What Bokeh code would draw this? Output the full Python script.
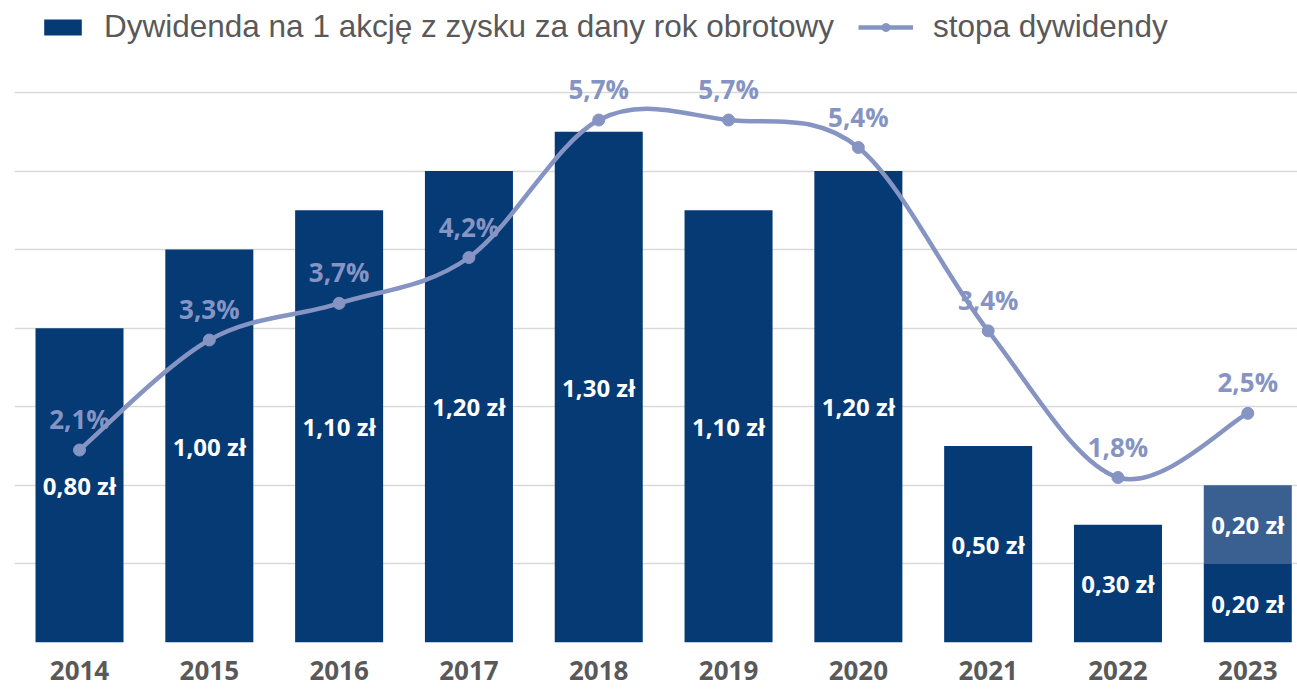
from bokeh.plotting import figure
from bokeh.models import Range1d, FixedTicker, ColumnDataSource, Legend, LegendItem
from bokeh.core.properties import value
from bokeh.embed import file_html
from bokeh.resources import INLINE

# ---- data ----
years = ["2014", "2015", "2016", "2017", "2018", "2019", "2020", "2021", "2022", "2023"]
dividend_base = [0.80, 1.00, 1.10, 1.20, 1.30, 1.10, 1.20, 0.50, 0.30, 0.20]
dividend_extra = [0.0, 0.0, 0.0, 0.0, 0.0, 0.0, 0.0, 0.0, 0.0, 0.20]
yield_pct = [2.1, 3.3, 3.7, 4.2, 5.7, 5.7, 5.4, 3.4, 1.8, 2.5]
grid_values = [0.0, 0.2, 0.4, 0.6, 0.8, 1.0, 1.2, 1.4]

BAR = "#053A75"
BAR2 = "#3A6091"
LINE = "#8594C2"
GRAY = "#595959"

xs = list(range(len(years)))

def pln(v):
    return ("%.2f" % v).replace(".", ",") + " zł"

def pct(v):
    return ("%.1f" % v).replace(".", ",") + "%"

W, H = 1297, 689
p = figure(width=W, height=H, output_backend="svg", toolbar_location=None,
           x_range=Range1d(-0.5008, 9.383), y_range=Range1d(0, 1.634),
           min_border_left=14, min_border_right=0, min_border_top=0,
           min_border_bottom=47)
p.outline_line_color = None
p.background_fill_color = "white"
p.extra_y_ranges = {"pct": Range1d(0, 7.004)}

# grid
p.yaxis.visible = False
p.ygrid.ticker = FixedTicker(ticks=grid_values)
p.ygrid.grid_line_color = "#D9D9D9"
p.ygrid.grid_line_width = 1.5
p.xgrid.grid_line_color = None

# x axis
p.xaxis.ticker = FixedTicker(ticks=xs)
p.xaxis.major_label_overrides = {i: y for i, y in zip(xs, years)}
p.xaxis.axis_line_color = None
p.xaxis.major_tick_line_color = None
p.xaxis.minor_tick_line_color = None
p.xaxis.major_label_text_font = "Open Sans"
p.xaxis.major_label_text_font_style = "bold"
p.xaxis.major_label_text_font_size = "26px"
p.xaxis.major_label_text_color = GRAY
p.xaxis.major_label_standoff = 12

# bars
extra_top = [b + e for b, e in zip(dividend_base, dividend_extra)]
src = ColumnDataSource(dict(
    x=xs, base=dividend_base, extra_bottom=dividend_base, extra_top=extra_top,
    base_mid=[b / 2 for b in dividend_base],
    extra_mid=[b + e / 2 for b, e in zip(dividend_base, dividend_extra)],
    base_lbl=[pln(v) for v in dividend_base],
    extra_lbl=[pln(v) if v > 0 else "" for v in dividend_extra],
    extra_alpha=[1.0 if v > 0 else 0.0 for v in dividend_extra],
    yv=yield_pct, ylbl=[pct(v) for v in yield_pct],
))
bar_r = p.vbar(x="x", top="base", bottom=0, width=0.678, source=src,
               fill_color=BAR, line_color=None)
p.vbar(x="x", top="extra_top", bottom="extra_bottom", width=0.678, source=src,
       fill_color=BAR2, line_color=None, fill_alpha="extra_alpha")

for ycol, tcol in (("base_mid", "base_lbl"), ("extra_mid", "extra_lbl")):
    p.text(x="x", y=ycol, text=tcol, source=src, text_color="white",
           text_font=value("Open Sans"), text_font_style="bold", text_font_size="24px",
           text_align="center", text_baseline="middle")

# smoothed line (Catmull-Rom -> cubic Bezier, Excel style)
n = len(xs)
bx0, by0, bx1, by1, cx0, cy0, cx1, cy1 = [], [], [], [], [], [], [], []
for i in range(n - 1):
    xm, ym = (xs[i - 1], yield_pct[i - 1]) if i > 0 else (xs[i], yield_pct[i])
    xq, yq = (xs[i + 2], yield_pct[i + 2]) if i + 2 < n else (xs[i + 1], yield_pct[i + 1])
    x0, y0 = xs[i], yield_pct[i]
    x1, y1 = xs[i + 1], yield_pct[i + 1]
    bx0.append(x0); by0.append(y0); bx1.append(x1); by1.append(y1)
    cx0.append(x0 + (x1 - xm) / 6); cy0.append(y0 + (y1 - ym) / 6)
    cx1.append(x1 - (xq - x0) / 6); cy1.append(y1 - (yq - y0) / 6)
bez = p.bezier(x0=bx0, y0=by0, x1=bx1, y1=by1, cx0=cx0, cy0=cy0, cx1=cx1, cy1=cy1,
               line_color=LINE, line_width=4.5, y_range_name="pct")
pts = p.scatter(x="x", y="yv", source=src, size=12, fill_color=LINE,
                line_color=LINE, y_range_name="pct")

p.text(x="x", y="yv", text="ylbl", source=src, text_color=LINE, y_offset=-31,
       text_font=value("Open Sans"), text_font_style="bold", text_font_size="26px",
       text_align="center", text_baseline="middle", y_range_name="pct")

# legends
def style(lg):
    lg.background_fill_alpha = 0
    lg.border_line_alpha = 0
    lg.padding = 0
    lg.margin = 0
    lg.label_text_font = "Liberation Sans"
    lg.label_text_font_size = "31.5px"
    lg.label_text_color = GRAY

lg1 = Legend(items=[LegendItem(label="Dywidenda na 1 akcję z zysku za dany rok obrotowy",
                               renderers=[bar_r])],
             location=(25, 597), glyph_width=47, glyph_height=20, label_standoff=18)
style(lg1)
lg2 = Legend(items=[LegendItem(label="stopa dywidendy", renderers=[bez, pts])],
             location=(844, 597), glyph_width=55, glyph_height=20, label_standoff=20)
style(lg2)
p.add_layout(lg1)
p.add_layout(lg2)

open("out.html", "w").write(file_html(p, INLINE))
